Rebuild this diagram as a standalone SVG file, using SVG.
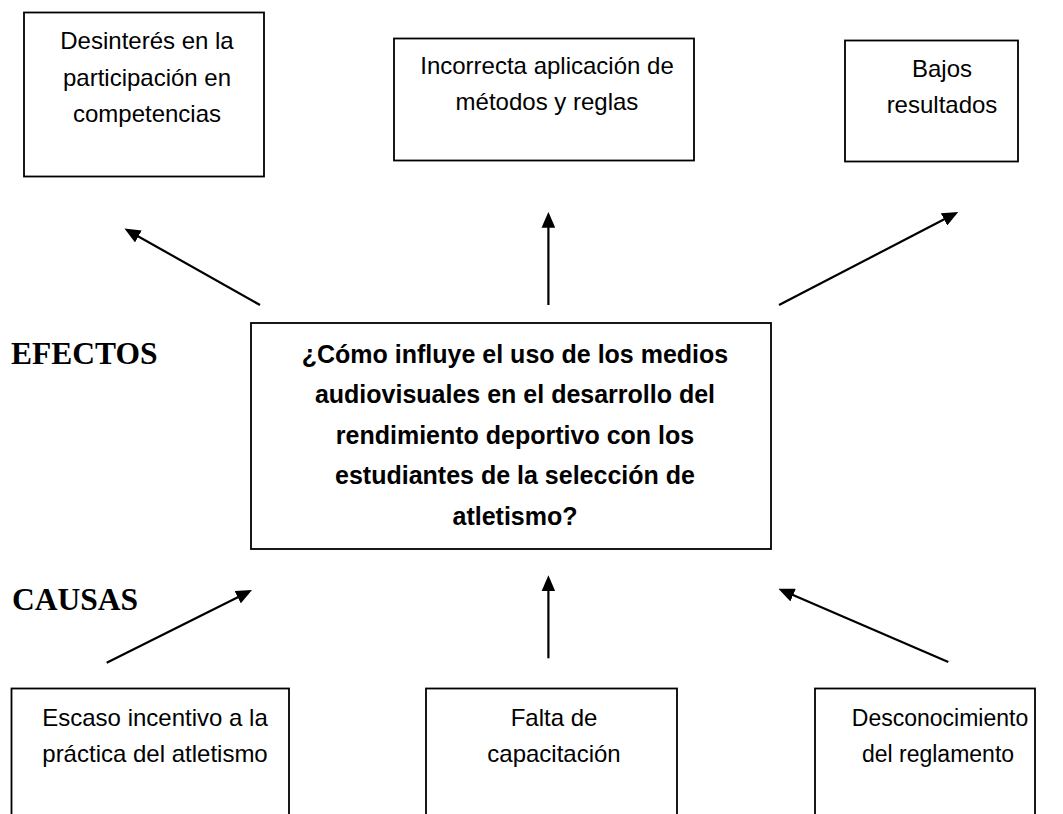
<svg xmlns="http://www.w3.org/2000/svg" width="1063" height="814" viewBox="0 0 1063 814">
<style>
  .box { fill: #ffffff; stroke: #000000; stroke-width: 1.8; }
  .t { font-family: "Liberation Sans", Arial, sans-serif; font-size: 24px; fill: #000000; text-anchor: middle; }
  .ts { font-size: 23px; }
  .tb { font-family: "Liberation Sans", Arial, sans-serif; font-size: 25px; font-weight: bold; fill: #000000; text-anchor: middle; }
  .lbl { font-family: "Liberation Serif", "Times New Roman", serif; font-size: 31.5px; font-weight: bold; fill: #000000; }
  .arr { stroke: #000000; stroke-width: 2.2; fill: none; marker-end: url(#ah); }
</style>
<defs>
  <marker id="ah" markerUnits="userSpaceOnUse" markerWidth="16" markerHeight="14" viewBox="0 0 14 12" refX="4" refY="6" orient="auto">
    <path d="M0,0 L14,6 L0,12 z" fill="#000000"/>
  </marker>
</defs>
<rect width="1063" height="814" fill="#ffffff"/>

<g id="efecto1">
  <rect class="box" x="24" y="12.5" width="240" height="164"/>
  <text class="t" x="147" y="49">Desinterés en la</text>
  <text class="t" x="147" y="86">participación en</text>
  <text class="t" x="147" y="122">competencias</text>
</g>
<g id="efecto2">
  <rect class="box" x="394" y="38.5" width="300" height="122"/>
  <text class="t" x="547" y="74">Incorrecta aplicación de</text>
  <text class="t" x="547" y="110">métodos y reglas</text>
</g>
<g id="efecto3">
  <rect class="box" x="845" y="40.5" width="173" height="121"/>
  <text class="t" x="942" y="77">Bajos</text>
  <text class="t" x="942" y="113">resultados</text>
</g>

<text class="lbl" x="11" y="364">EFECTOS</text>
<text class="lbl" x="12" y="610">CAUSAS</text>

<g id="problema">
  <rect class="box" x="251" y="323" width="520" height="226"/>
  <text class="tb" x="515" y="363">¿Cómo influye el uso de los medios</text>
  <text class="tb" x="515" y="403">audiovisuales en el desarrollo del</text>
  <text class="tb" x="515" y="444">rendimiento deportivo con los</text>
  <text class="tb" x="515" y="484">estudiantes de la selección de</text>
  <text class="tb" x="515" y="525">atletismo?</text>
</g>

<g id="causa1">
  <rect class="box" x="11.5" y="688.5" width="277.5" height="140"/>
  <text class="t" x="155" y="726">Escaso incentivo a la</text>
  <text class="t" x="155" y="762">práctica del atletismo</text>
</g>
<g id="causa2">
  <rect class="box" x="426" y="688.5" width="251" height="140"/>
  <text class="t" x="554" y="726">Falta de</text>
  <text class="t" x="554" y="762">capacitación</text>
</g>
<g id="causa3">
  <rect class="box" x="815" y="688.5" width="220" height="140"/>
  <text class="t ts" x="940" y="726">Desconocimiento</text>
  <text class="t ts" x="938" y="762">del reglamento</text>
</g>

<g id="connectors">
  <line class="arr" x1="260" y1="305" x2="134.4" y2="234.2"/>
  <line class="arr" x1="548.4" y1="305" x2="548.4" y2="223.3"/>
  <line class="arr" x1="779" y1="305" x2="948.1" y2="217.3"/>
  <line class="arr" x1="106.7" y1="662.7" x2="241.8" y2="595.2"/>
  <line class="arr" x1="548.4" y1="658.3" x2="548.4" y2="586.7"/>
  <line class="arr" x1="948.3" y1="662" x2="788.9" y2="593.3"/>
</g>
</svg>
